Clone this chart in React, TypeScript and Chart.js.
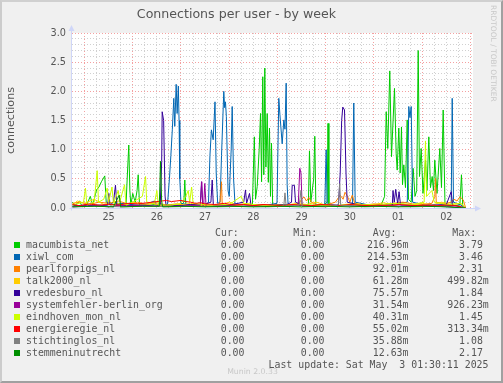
import React, { useEffect, useRef } from "react";
import { Chart, registerables } from "chart.js";

Chart.register(...registerables);

// ---- Data (x = day index: 25 = Apr 25 00:00, 31 = May 1, 32 = May 2) ----
const DAY_LABELS = ["25", "26", "27", "28", "29", "30", "01", "02"];
const FIRST_DAY = 25;

const SERIES_NAMES = [
  "macumbista_net",
  "xiwl_com",
  "pearlforpigs_nl",
  "talk2000_nl",
  "vredesburo_nl",
  "systemfehler-berlin_org",
  "eindhoven_mon_nl",
  "energieregie_nl",
  "stichtinglos_nl",
  "stemmeninutrecht",
];
const SERIES_COLORS = [
  "#00CC00", "#0066B3", "#FF8000", "#FFCC00", "#330099",
  "#990099", "#CCFF00", "#FF0000", "#808080", "#008F00",
];

const CUR = ["0.00", "0.00", "0.00", "0.00", "0.00", "0.00", "0.00", "0.00", "0.00", "0.00"];
const MIN = ["0.00", "0.00", "0.00", "0.00", "0.00", "0.00", "0.00", "0.00", "0.00", "0.00"];
const AVG = ["216.96m", "214.53m", "92.01m", "61.28m", "75.57m", "31.54m", "40.31m", "55.02m", "35.88m", "12.63m"];
const MAX = ["3.79 ", "3.46 ", "2.31 ", "499.82m", "1.84 ", "926.23m", "1.45 ", "313.34m", "1.08 ", "2.17 "];

const MACUMBISTA_NET = [
  [24.75, 0.1], [24.8, 0.04], [24.9, 0.12], [24.95, 0.02], [25.05, 0.06], [25.12, 0.2], [25.17, 0.05],
  [25.25, 0.31], [25.3, 0.36], [25.35, 0.45], [25.42, 0.55], [25.45, 0.1], [25.55, 0.05], [25.7, 0.08],
  [25.86, 0.04], [25.89, 0.6], [25.918, 1.08], [25.94, 0.3], [25.96, 0.05], [26.0, 0.25], [26.05, 0.1],
  [26.09, 0.3], [26.113, 0.57], [26.14, 0.05], [26.3, 0.04], [26.45, 0.06], [26.6, 0.03], [26.8, 0.05],
  [27.0, 0.05], [27.06, 0.1], [27.079, 0.48], [27.1, 0.05], [27.3, 0.04], [27.5, 0.05], [27.8, 0.03],
  [28.1, 0.05], [28.3, 0.06], [28.48, 0.05], [28.52, 1.22], [28.545, 0.15], [28.58, 0.37], [28.62, 1.0],
  [28.648, 1.62], [28.67, 0.45], [28.695, 2.25], [28.716, 0.57], [28.737, 2.4], [28.76, 0.7], [28.787, 1.62],
  [28.81, 0.44], [28.834, 1.37], [28.855, 0.2], [28.876, 1.11], [28.9, 0.05], [29.1, 0.04], [29.4, 0.05],
  [29.64, 0.05], [29.663, 0.98], [29.69, 0.1], [29.75, 0.5], [29.773, 1.23], [29.795, 0.05], [29.95, 0.05],
  [30.03, 0.1], [30.047, 1.45], [30.065, 0.05], [30.3, 0.04], [30.6, 0.05], [30.9, 0.04], [31.15, 0.05],
  [31.22, 0.2], [31.253, 1.65], [31.286, 1.02], [31.327, 2.35], [31.363, 0.88], [31.425, 2.05], [31.46, 0.93],
  [31.481, 0.65], [31.514, 1.37], [31.543, 0.6], [31.57, 1.39], [31.591, 0.4], [31.618, 0.74], [31.653, 0.35],
  [31.688, 1.51], [31.715, 0.15], [31.77, 0.1], [31.812, 0.68], [31.85, 0.2], [31.885, 0.3], [31.916, 2.7],
  [31.943, 0.54], [31.978, 1.02], [32.016, 0.25], [32.067, 0.82], [32.098, 0.3], [32.136, 1.22], [32.171, 0.35],
  [32.206, 0.54], [32.233, 0.3], [32.26, 0.82], [32.306, 0.25], [32.364, 1.02], [32.399, 0.35], [32.434, 1.68],
  [32.472, 0.05], [32.6, 0.04], [32.78, 0.05], [32.813, 0.57], [32.84, 0.03], [32.9, 0.0],
];

const XIWL_COM = [
  [24.75, 0.05], [25.0, 0.03], [25.3, 0.05], [25.6, 0.02], [25.75, 0.08], [26.2, 0.04], [26.45, 0.12],
  [26.5, 0.05], [26.72, 0.06], [26.76, 0.5], [26.79, 0.9], [26.82, 1.34], [26.851, 1.88], [26.871, 1.4],
  [26.9, 2.12], [26.92, 1.62], [26.945, 2.09], [26.96, 1.5], [26.975, 0.5], [27.0, 0.08], [27.2, 0.05],
  [27.5, 0.04], [27.57, 0.1], [27.6, 0.9], [27.63, 1.34], [27.667, 1.17], [27.705, 1.82], [27.73, 0.6],
  [27.76, 0.08], [27.81, 0.1], [27.84, 0.9], [27.887, 2.0], [27.905, 1.72], [27.922, 1.82], [27.94, 1.57],
  [27.975, 0.3], [28.0, 0.2], [28.04, 1.0], [28.061, 1.74], [28.09, 0.5], [28.12, 0.06], [28.4, 0.05],
  [28.7, 0.04], [28.99, 0.08], [29.027, 1.88], [29.05, 1.6], [29.097, 1.1], [29.131, 1.51], [29.155, 1.35],
  [29.18, 2.14], [29.2, 0.4], [29.22, 0.05], [29.5, 0.04], [29.98, 0.05], [30.009, 1.0], [30.03, 0.05],
  [30.3, 0.04], [30.555, 0.05], [30.581, 1.8], [30.61, 0.1], [30.9, 0.05], [31.2, 0.04], [31.69, 0.1],
  [31.721, 1.74], [31.745, 1.55], [31.771, 1.74], [31.8, 0.1], [32.1, 0.04], [32.6, 0.05], [32.621, 1.88],
  [32.648, 0.1], [32.8, 0.05], [32.9, 0.0],
];

const PEARLFORPIGS_NL = [
  [24.75, 0.08], [24.9, 0.1], [25.1, 0.06], [25.3, 0.1], [25.5, 0.08], [25.7, 0.12], [25.9, 0.07],
  [26.1, 0.1], [26.3, 0.06], [26.5, 0.09], [26.7, 0.05], [26.9, 0.07], [27.1, 0.05], [27.3, 0.06],
  [27.5, 0.04], [27.8, 0.05], [27.82, 0.2], [27.839, 0.45], [27.855, 0.05], [28.1, 0.05], [28.3, 0.07],
  [28.5, 0.05], [28.7, 0.06], [28.9, 0.04], [29.1, 0.06], [29.3, 0.05], [29.45, 0.08], [29.5, 0.15],
  [29.55, 0.19], [29.6, 0.12], [29.65, 0.18], [29.7, 0.1], [29.8, 0.06], [30.0, 0.05], [30.2, 0.1],
  [30.3, 0.22], [30.36, 0.15], [30.4, 0.27], [30.45, 0.2], [30.5, 0.1], [30.55, 0.22], [30.6, 0.08],
  [30.8, 0.05], [31.0, 0.07], [31.2, 0.05], [31.4, 0.08], [31.6, 0.1], [31.8, 0.07], [32.0, 0.06],
  [32.2, 0.08], [32.26, 0.2], [32.275, 0.51], [32.29, 0.1], [32.45, 0.07], [32.6, 0.1], [32.66, 0.15],
  [32.72, 0.12], [32.78, 0.19], [32.85, 0.14], [32.9, 0.0],
];

const TALK2000_NL = [
  [24.75, 0.05], [24.85, 0.12], [25.0, 0.08], [25.2, 0.15], [25.4, 0.06], [25.6, 0.1], [25.8, 0.05],
  [26.0, 0.09], [26.2, 0.06], [26.4, 0.08], [26.6, 0.04], [26.8, 0.06], [27.0, 0.05], [27.2, 0.08],
  [27.4, 0.05], [27.6, 0.04], [27.85, 0.06], [28.0, 0.1], [28.2, 0.04], [28.4, 0.07], [28.6, 0.05],
  [28.8, 0.03], [29.0, 0.06], [29.2, 0.05], [29.4, 0.08], [29.6, 0.06], [29.8, 0.1], [30.0, 0.05],
  [30.2, 0.04], [30.4, 0.06], [30.6, 0.08], [30.8, 0.05], [31.0, 0.06], [31.2, 0.09], [31.4, 0.05],
  [31.6, 0.07], [31.8, 0.05], [32.0, 0.08], [32.2, 0.05], [32.4, 0.1], [32.6, 0.06], [32.8, 0.08],
  [32.9, 0.0],
];

const VREDESBURO_NL = [
  [24.75, 0.03], [25.0, 0.05], [25.3, 0.04], [25.48, 0.05], [25.504, 0.25], [25.53, 0.05], [25.6, 0.1],
  [25.642, 0.39], [25.67, 0.05], [25.9, 0.04], [26.2, 0.05], [26.5, 0.03], [26.57, 0.05], [26.6, 0.8],
  [26.61, 1.65], [26.64, 1.5], [26.67, 0.2], [26.69, 0.05], [27.0, 0.04], [27.2, 0.06], [27.4, 0.05],
  [27.425, 0.45], [27.45, 0.05], [27.62, 0.1], [27.647, 0.48], [27.67, 0.05], [28.0, 0.05], [28.3, 0.1],
  [28.337, 0.31], [28.36, 0.08], [28.42, 0.25], [28.45, 0.05], [28.7, 0.04], [29.0, 0.05], [29.2, 0.06],
  [29.29, 0.1], [29.305, 0.39], [29.35, 0.39], [29.373, 0.1], [29.5, 0.05], [29.8, 0.04], [30.1, 0.05],
  [30.264, 0.05], [30.3, 0.6], [30.33, 1.5], [30.353, 1.73], [30.389, 1.68], [30.42, 0.6], [30.445, 0.1],
  [30.7, 0.05], [31.0, 0.04], [31.38, 0.05], [31.394, 0.3], [31.42, 0.1], [31.45, 0.32], [31.49, 0.08],
  [31.52, 0.28], [31.55, 0.05], [31.9, 0.04], [32.2, 0.05], [32.5, 0.06], [32.6, 0.28], [32.63, 0.05],
  [32.9, 0.0],
];

const SYSTEMFEHLER_BERLIN_ORG = [
  [24.75, 0.02], [25.2, 0.04], [25.5, 0.02], [25.9, 0.05], [26.3, 0.03], [26.7, 0.04], [27.0, 0.03],
  [27.4, 0.05], [27.43, 0.45], [27.45, 0.05], [27.47, 0.05], [27.493, 0.42], [27.52, 0.03], [27.9, 0.04],
  [28.3, 0.03], [28.7, 0.05], [29.0, 0.03], [29.43, 0.05], [29.462, 0.68], [29.487, 0.6], [29.51, 0.05],
  [29.9, 0.03], [30.3, 0.04], [30.7, 0.03], [31.2, 0.05], [31.6, 0.03], [32.0, 0.04], [32.5, 0.03],
  [32.9, 0.0],
];

const EINDHOVEN_MON_NL = [
  [24.75, 0.05], [24.98, 0.1], [25.02, 0.34], [25.05, 0.05], [25.2, 0.1], [25.263, 0.64], [25.29, 0.1],
  [25.4, 0.15], [25.47, 0.34], [25.5, 0.1], [25.57, 0.36], [25.6, 0.08], [25.7, 0.3], [25.73, 0.1],
  [25.83, 0.4], [25.86, 0.05], [26.0, 0.1], [26.2, 0.2], [26.265, 0.54], [26.29, 0.1], [26.45, 0.08],
  [26.5, 0.3], [26.53, 0.05], [26.8, 0.05], [27.0, 0.08], [27.1, 0.2], [27.15, 0.3], [27.18, 0.1],
  [27.22, 0.36], [27.25, 0.08], [27.6, 0.05], [28.0, 0.06], [28.25, 0.2], [28.3, 0.08], [28.6, 0.05],
  [29.0, 0.04], [29.4, 0.06], [29.8, 0.05], [30.2, 0.04], [30.6, 0.06], [31.0, 0.05], [31.4, 0.08],
  [31.8, 0.06], [32.04, 0.1], [32.067, 1.15], [32.09, 0.2], [32.2, 0.3], [32.25, 0.1], [32.5, 0.06],
  [32.8, 0.08], [32.9, 0.0],
];

const ENERGIEREGIE_NL = [
  [24.75, 0.06], [24.9, 0.04], [25.1, 0.07], [25.3, 0.05], [25.5, 0.06], [25.7, 0.05], [25.9, 0.08],
  [26.1, 0.07], [26.3, 0.09], [26.5, 0.11], [26.6, 0.12], [26.7, 0.13], [26.8, 0.11], [26.9, 0.12],
  [27.0, 0.13], [27.1, 0.11], [27.2, 0.1], [27.3, 0.08], [27.4, 0.09], [27.5, 0.07], [27.7, 0.06],
  [27.9, 0.08], [28.1, 0.05], [28.3, 0.06], [28.5, 0.04], [28.7, 0.06], [28.9, 0.05], [29.1, 0.04],
  [29.3, 0.06], [29.5, 0.05], [29.7, 0.04], [29.9, 0.06], [30.1, 0.05], [30.3, 0.04], [30.5, 0.06],
  [30.7, 0.05], [30.9, 0.04], [31.1, 0.05], [31.3, 0.04], [31.5, 0.06], [31.7, 0.05], [31.9, 0.04],
  [32.1, 0.05], [32.3, 0.04], [32.5, 0.05], [32.7, 0.04], [32.9, 0.0],
];

const STICHTINGLOS_NL = [
  [24.75, 0.02], [25.3, 0.03], [25.8, 0.02], [26.3, 0.03], [26.8, 0.02], [27.3, 0.03], [27.8, 0.02],
  [28.3, 0.03], [28.8, 0.02], [29.13, 0.03], [29.155, 0.26], [29.18, 0.03], [29.45, 0.05], [29.487, 0.3],
  [29.51, 0.03], [30.0, 0.02], [30.26, 0.05], [30.29, 0.42], [30.31, 0.05], [30.8, 0.02], [31.3, 0.03],
  [31.8, 0.02], [32.3, 0.03], [32.9, 0.0],
];

const STEMMENINUTRECHT = [
  [24.75, 0.02], [25.2, 0.03], [25.6, 0.02], [25.72, 0.22], [25.75, 0.02], [26.2, 0.03], [26.55, 0.03],
  [26.575, 0.8], [26.6, 0.1], [26.62, 0.02], [27.0, 0.03], [27.5, 0.02], [28.0, 0.03], [28.5, 0.02],
  [29.0, 0.03], [29.5, 0.02], [30.0, 0.03], [30.5, 0.02], [31.0, 0.03], [31.5, 0.02], [32.0, 0.03],
  [32.5, 0.02], [32.9, 0.0],
];

const SERIES_DATA = [
  MACUMBISTA_NET, XIWL_COM, PEARLFORPIGS_NL, TALK2000_NL, VREDESBURO_NL,
  SYSTEMFEHLER_BERLIN_ORG, EINDHOVEN_MON_NL, ENERGIEREGIE_NL, STICHTINGLOS_NL, STEMMENINUTRECHT,
];

const X_MIN = 24.741;
const X_MAX = 33.052;
const Y_MAX = 3.0;

const FONT = "'DejaVu Sans', Verdana, sans-serif";
const MONO = "'DejaVu Sans Mono', monospace";
const TEXT = "#555555";
const AXIS = "#CFD6F8";

const axisPlugin = {
  id: "rrdAxes",
  afterDatasetsDraw(chart: any) {
    const { ctx, chartArea } = chart;
    const x0 = Math.round(chartArea.left) - 0.5;
    const y0 = Math.round(chartArea.bottom) + 0.5;
    ctx.save();
    ctx.strokeStyle = AXIS;
    ctx.fillStyle = AXIS;
    ctx.lineWidth = 1;
    ctx.beginPath();
    ctx.moveTo(x0, y0 + 2);
    ctx.lineTo(x0, chartArea.top - 4);
    ctx.moveTo(x0 - 2, y0);
    ctx.lineTo(chartArea.right + 4, y0);
    ctx.stroke();
    ctx.beginPath();
    ctx.moveTo(x0 - 3, chartArea.top - 2);
    ctx.lineTo(x0 + 3, chartArea.top - 2);
    ctx.lineTo(x0, chartArea.top - 8);
    ctx.closePath();
    ctx.fill();
    ctx.beginPath();
    ctx.moveTo(chartArea.right + 2, y0 - 3);
    ctx.lineTo(chartArea.right + 2, y0 + 3);
    ctx.lineTo(chartArea.right + 8, y0);
    ctx.closePath();
    ctx.fill();
    ctx.restore();
  },
};

const canvasBg = {
  id: "canvasBg",
  beforeDraw(chart: any) {
    const { ctx, chartArea } = chart;
    ctx.save();
    ctx.fillStyle = "#FFFFFF";
    ctx.fillRect(chartArea.left, chartArea.top, chartArea.right - chartArea.left, chartArea.bottom - chartArea.top);
    ctx.restore();
  },
};

function ChartCanvas() {
  const ref = useRef<HTMLCanvasElement | null>(null);
  useEffect(() => {
    document.body.style.margin = "0";
    const n = SERIES_DATA.length;
    const datasets = SERIES_DATA.map((arr, i) => ({
      label: SERIES_NAMES[i],
      data: arr.map(([x, y]) => ({ x, y })),
      borderColor: SERIES_COLORS[i],
      backgroundColor: SERIES_COLORS[i],
      borderWidth: 1,
      pointRadius: 0,
      tension: 0,
      fill: false,
      order: n - i,
    }));
    const chart = new Chart(ref.current as HTMLCanvasElement, {
      type: "line",
      data: { datasets },
      plugins: [canvasBg, axisPlugin],
      options: {
        animation: false,
        responsive: false,
        maintainAspectRatio: false,
        parsing: false as any,
        layout: { padding: { left: 0, top: 0, right: 30, bottom: 155 } },
        plugins: {
          legend: { display: false },
          tooltip: { enabled: false },
          title: {
            display: true,
            text: "Connections per user - by week",
            color: TEXT,
            font: { family: FONT, size: 12.6, weight: "normal" },
            padding: { top: 7, bottom: 10.88 },
          },
        },
        scales: {
          x: {
            type: "linear",
            min: X_MIN,
            max: X_MAX,
            afterBuildTicks(scale: any) {
              const t: any[] = [];
              for (let k = 0; k <= 32; k++) t.push({ value: FIRST_DAY + k * 0.25 });
              scale.ticks = t;
            },
            afterFit(scale: any) {
              scale.height = 20;
            },
            grid: {
              drawTicks: false,
              lineWidth: 1,
              color: (c: any) => {
                const v = c.tick ? c.tick.value : 0;
                return Math.abs(v - Math.round(v)) < 1e-6 ? "#F4A0A0" : "#D0D0D0";
              },
            },
            border: { display: false, dash: [1, 2] },
            ticks: {
              autoSkip: false,
              maxRotation: 0,
              minRotation: 0,
              padding: 3.5,
              color: TEXT,
              font: { family: FONT, size: 9.7 },
              callback: (v: any) => {
                const d = Number(v) - FIRST_DAY - 0.5;
                const idx = Math.round(d);
                return Math.abs(d - idx) < 1e-6 && idx >= 0 && idx < DAY_LABELS.length ? DAY_LABELS[idx] : "";
              },
            },
          },
          y: {
            type: "linear",
            min: 0,
            max: Y_MAX,
            afterFit(scale: any) {
              scale.width = 72;
            },
            grid: {
              drawTicks: false,
              lineWidth: 1,
              color: (c: any) => {
                const v = c.tick ? c.tick.value : 0;
                const r = Math.round(v * 2) / 2;
                return Math.abs(v - r) < 1e-6 ? "#F4A0A0" : "#D0D0D0";
              },
            },
            border: { display: false, dash: [1, 2] },
            title: {
              display: true,
              text: "connections",
              color: TEXT,
              font: { family: FONT, size: 11.1, weight: "normal" },
              padding: { top: 4, bottom: 0 },
            },
            ticks: {
              stepSize: 0.1,
              autoSkip: false,
              padding: 6,
              color: TEXT,
              font: { family: FONT, size: 9.7 },
              callback: (v: any) => {
                const num = Number(v);
                const r = Math.round(num * 2) / 2;
                return Math.abs(num - r) < 1e-6 ? r.toFixed(1) : "";
              },
            },
          },
        },
      },
    } as any);
    return () => chart.destroy();
  }, []);
  return <canvas ref={ref} width={503} height={383} style={{ position: "absolute", left: 0, top: 0, width: 503, height: 383 }} />;
}

const ROW0 = 245.3;
const ROW_STEP = 12;
const HEADER_Y = 233.3;

function Txt(props: { x?: number; right?: number; y: number; children: any; style?: any }) {
  const s: any = {
    position: "absolute",
    top: props.y - 6,
    lineHeight: "12px",
    height: 12,
    fontFamily: MONO,
    fontSize: 9.9,
    color: TEXT,
    whiteSpace: "pre",
    ...props.style,
  };
  if (props.right !== undefined) s.right = 503 - props.right;
  else s.left = props.x;
  return <div style={s}>{props.children}</div>;
}

export default function App() {
  return (
    <div style={{ position: "relative", width: 503, height: 383, background: "#F0F0F0", overflow: "hidden" }}>
      <ChartCanvas />
      <Txt x={215} y={HEADER_Y}>Cur:</Txt>
      <Txt x={293.3} y={HEADER_Y}>Min:</Txt>
      <Txt x={372.7} y={HEADER_Y}>Avg:</Txt>
      <Txt x={452.3} y={HEADER_Y}>Max:</Txt>
      {SERIES_NAMES.map((name, i) => {
        const y = ROW0 + i * ROW_STEP;
        return (
          <React.Fragment key={name}>
            <div style={{ position: "absolute", left: 14, top: y - 3, width: 6, height: 6, background: SERIES_COLORS[i] }} />
            <Txt x={26} y={y}>{name}</Txt>
            <Txt right={244.5} y={y}>{CUR[i]}</Txt>
            <Txt right={324.5} y={y}>{MIN[i]}</Txt>
            <Txt right={408.5} y={y}>{AVG[i]}</Txt>
            <Txt right={488.8} y={y}>{MAX[i]}</Txt>
          </React.Fragment>
        );
      })}
      <Txt right={488.5} y={365.3}>Last update: Sat May  3 01:30:11 2025</Txt>
      <div
        style={{
          position: "absolute",
          left: 0,
          width: 503,
          top: 367,
          textAlign: "center",
          fontFamily: FONT,
          fontSize: 7.75,
          lineHeight: "10px",
          color: "#C8C8C8",
          paddingLeft: 1,
        }}
      >
        Munin 2.0.33
      </div>
      <div
        style={{
          position: "absolute",
          left: 493,
          top: 5,
          transformOrigin: "0 0",
          transform: "rotate(90deg) translate(0, -5px)",
          fontFamily: FONT,
          fontSize: 7.5,
          lineHeight: "10px",
          color: "#C8C8C8",
          whiteSpace: "nowrap",
        }}
      >
        RRDTOOL / TOBI OETIKER
      </div>
      <div
        style={{
          position: "absolute",
          left: 0,
          top: 0,
          width: 503,
          height: 383,
          boxSizing: "border-box",
          borderTop: "2px solid #D0D0D0",
          borderLeft: "2px solid #CCCCCC",
          borderRight: "2px solid #A0A0A0",
          borderBottom: "2px solid #A0A0A0",
          pointerEvents: "none",
        }}
      />
    </div>
  );
}
